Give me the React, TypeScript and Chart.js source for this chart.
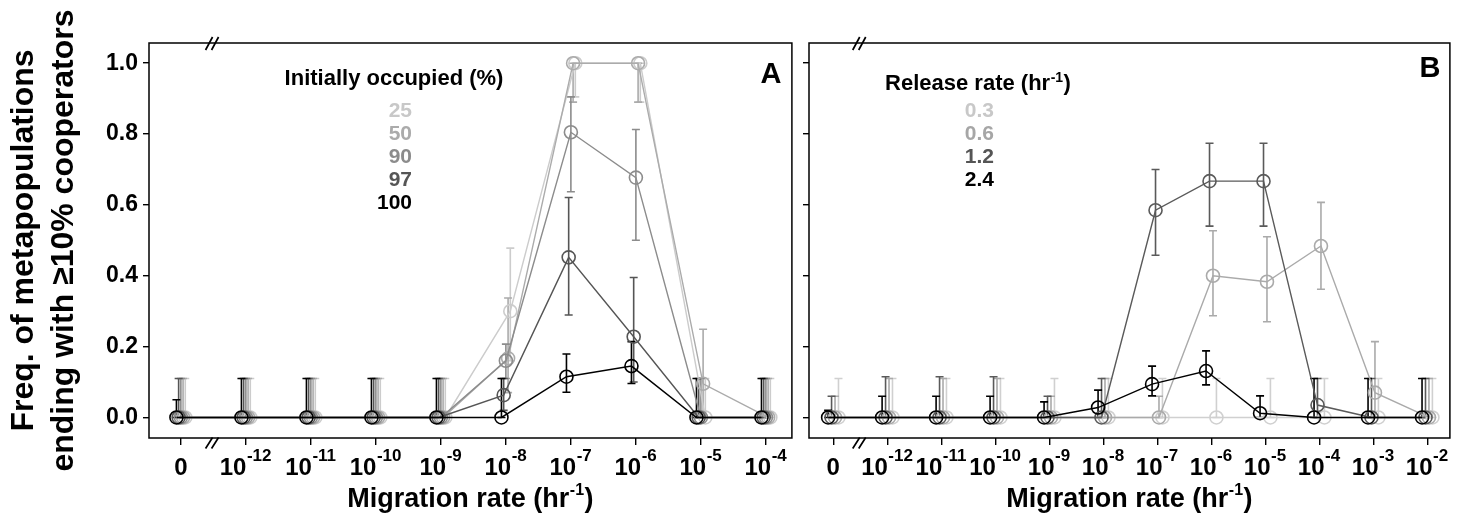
import React, { useEffect, useRef } from "react";
import { Chart, registerables } from "chart.js";

Chart.register(...registerables);

const FONT = '"Liberation Sans", Arial, Helvetica, sans-serif';

// ---------- Panel A data ----------
const xLabelsA = ["0", "10^-12", "10^-11", "10^-10", "10^-9", "10^-8", "10^-7", "10^-6", "10^-5", "10^-4"];
const occLegendTitle = "Initially occupied (%)";
const occLabels = ["100", "97", "90", "50", "25"];

const occ100 = [0, 0, 0, 0, 0, 0, 0.115, 0.145, 0, 0];
const occ100Lo = [0, 0, 0, 0, 0, 0, 0.071, 0.096, 0, 0];
const occ100Hi = [0.05, 0.11, 0.11, 0.11, 0.11, 0.11, 0.179, 0.214, 0.11, 0.11];

const occ97 = [0, 0, 0, 0, 0, 0.063, 0.452, 0.228, 0, 0];
const occ97Lo = [0, 0, 0, 0, 0, 0.02, 0.289, 0.1, 0, 0];
const occ97Hi = [0.11, 0.11, 0.11, 0.11, 0.11, 0.11, 0.621, 0.395, 0.11, 0.11];

const occ90 = [0, 0, 0, 0, 0, 0.16, 0.805, 0.677, 0, 0];
const occ90Lo = [0, 0, 0, 0, 0, 0.11, 0.637, 0.5, 0, 0];
const occ90Hi = [0.11, 0.11, 0.11, 0.11, 0.11, 0.207, 0.905, 0.813, 0.11, 0.11];

const occ50 = [0, 0, 0, 0, 0, 0.167, 1.0, 1.0, 0.095, 0];
const occ50Lo = [0, 0, 0, 0, 0, 0.07, 0.89, 0.89, 0.017, 0];
const occ50Hi = [0.11, 0.11, 0.11, 0.11, 0.11, 0.337, 1.0, 1.0, 0.249, 0.11];

const occ25 = [0, 0, 0, 0, 0, 0.3, 1.0, 1.0, 0, 0];
const occ25Lo = [0, 0, 0, 0, 0, 0.16, 0.905, 0.89, 0, 0];
const occ25Hi = [0.11, 0.11, 0.11, 0.11, 0.11, 0.478, 1.0, 1.0, 0.11, 0.11];

// ---------- Panel B data ----------
const xLabelsB = ["0", "10^-12", "10^-11", "10^-10", "10^-9", "10^-8", "10^-7", "10^-6", "10^-5", "10^-4", "10^-3", "10^-2"];
const relLegendTitle = ["Release rate (hr", "-1", ")"];
const relLabels = ["2.4", "1.2", "0.6", "0.3"];

const rel24 = [0, 0, 0, 0, 0, 0.028, 0.094, 0.131, 0.012, 0, 0, 0];
const rel24Lo = [0, 0, 0, 0, 0, 0, 0.061, 0.092, 0, 0, 0, 0];
const rel24Hi = [0.02, 0.06, 0.06, 0.06, 0.044, 0.077, 0.145, 0.188, 0.061, 0.11, 0.11, 0.11];

const rel12 = [0, 0, 0, 0, 0, 0, 0.585, 0.667, 0.667, 0.035, 0, 0];
const rel12Lo = [0, 0, 0, 0, 0, 0, 0.458, 0.54, 0.54, 0, 0, 0];
const rel12Hi = [0.06, 0.115, 0.115, 0.115, 0.06, 0.11, 0.7, 0.774, 0.774, 0.11, 0.11, 0.11];

const rel06 = [0, 0, 0, 0, 0, 0, 0, 0.4, 0.383, 0.484, 0.07, 0];
const rel06Lo = [0, 0, 0, 0, 0, 0, 0, 0.287, 0.27, 0.362, 0, 0];
const rel06Hi = [0.06, 0.11, 0.11, 0.11, 0.06, 0.11, 0.06, 0.527, 0.51, 0.607, 0.214, 0.11];

const rel03 = [0, 0, 0, 0, 0, 0, 0, 0, 0, 0, 0, 0];
const rel03Lo = [0, 0, 0, 0, 0, 0, 0, 0, 0, 0, 0, 0];
const rel03Hi = [0.11, 0.11, 0.11, 0.11, 0.11, 0.11, 0.11, 0.11, 0.11, 0.11, 0.11, 0.11];

// ---------- shared axis text ----------
const yTickValues = [0, 0.2, 0.4, 0.6, 0.8, 1.0];
const yTitleLines = ["Freq. of metapopulations", "ending with \u226510% cooperators"];
const xTitle = ["Migration rate (hr", "-1", ")"];

type Series = { label: string; color: string; textColor: string; values: number[]; lo: number[]; hi: number[] };

type Spec = {
  letter: string;
  xLabels: string[];
  series: Series[];
  xMin: number;
  xMax: number;
  jitter: number;
  canvasWidth: number;
  yAxisWidth: number;
  showYLabels: boolean;
  legendTitle: string[];
  legendCx: number;
  legendTitleBaseline: number;
  legendNumRight: number;
  letterCx: number;
  letterBaseline: number;
};

const specA: Spec = {
  letter: "A",
  xLabels: xLabelsA,
  series: [
    { label: occLabels[0], color: "#000000", textColor: "#000000", values: occ100, lo: occ100Lo, hi: occ100Hi },
    { label: occLabels[1], color: "#555555", textColor: "#555555", values: occ97, lo: occ97Lo, hi: occ97Hi },
    { label: occLabels[2], color: "#8c8c8c", textColor: "#8c8c8c", values: occ90, lo: occ90Lo, hi: occ90Hi },
    { label: occLabels[3], color: "#ababab", textColor: "#ababab", values: occ50, lo: occ50Lo, hi: occ50Hi },
    { label: occLabels[4], color: "#cccccc", textColor: "#c8c8c8", values: occ25, lo: occ25Lo, hi: occ25Hi },
  ],
  xMin: -0.49,
  xMax: 9.4,
  jitter: 0.034,
  canvasWidth: 800,
  yAxisWidth: 149,
  showYLabels: true,
  legendTitle: [occLegendTitle, "", ""],
  legendCx: 394,
  legendTitleBaseline: 85,
  legendNumRight: 412,
  letterCx: 771,
  letterBaseline: 83,
};

const specB: Spec = {
  letter: "B",
  xLabels: xLabelsB,
  series: [
    { label: relLabels[0], color: "#000000", textColor: "#000000", values: rel24, lo: rel24Lo, hi: rel24Hi },
    { label: relLabels[1], color: "#5a5a5a", textColor: "#555555", values: rel12, lo: rel12Lo, hi: rel12Hi },
    { label: relLabels[2], color: "#aaaaaa", textColor: "#a6a6a6", values: rel06, lo: rel06Lo, hi: rel06Hi },
    { label: relLabels[3], color: "#d0d0d0", textColor: "#c8c8c8", values: rel03, lo: rel03Lo, hi: rel03Hi },
  ],
  xMin: -0.45,
  xMax: 11.42,
  jitter: 0.064,
  canvasWidth: 658,
  yAxisWidth: 9,
  showYLabels: false,
  legendTitle: relLegendTitle,
  legendCx: 178,
  legendTitleBaseline: 90,
  legendNumRight: 194,
  letterCx: 630,
  letterBaseline: 77,
};

function bold(size: number) {
  return `bold ${size}px ${FONT}`;
}

function drawSup(
  ctx: CanvasRenderingContext2D,
  parts: string[],
  cx: number,
  baseline: number,
  size: number,
  supSize: number,
  rise: number,
  color: string
) {
  const [base, sup, tail] = parts;
  ctx.font = bold(size);
  const wb = ctx.measureText(base).width;
  const wt = tail ? ctx.measureText(tail).width : 0;
  ctx.font = bold(supSize);
  const ws = sup ? ctx.measureText(sup).width + 1 : 0;
  let x = cx - (wb + ws + wt) / 2;
  ctx.fillStyle = color;
  ctx.textAlign = "left";
  ctx.textBaseline = "alphabetic";
  ctx.font = bold(size);
  ctx.fillText(base, x, baseline);
  x += wb;
  if (sup) {
    ctx.font = bold(supSize);
    ctx.fillText(sup, x + 0.5, baseline - rise);
    x += ws;
  }
  if (tail) {
    ctx.font = bold(size);
    ctx.fillText(tail, x, baseline);
  }
}

function buildConfig(spec: Spec): any {
  const n = spec.series.length;
  const offOf = (k: number) => (k - (n - 1) / 2) * spec.jitter;
  const idx = spec.xLabels.map((_, i) => i);

  const datasets = spec.series.map((s, k) => ({
    label: s.label,
    data: s.values.map((v, i) => ({ x: i + offOf(k), y: v })),
    borderColor: s.color,
    backgroundColor: "rgba(0,0,0,0)",
    borderWidth: 1.4,
    pointRadius: 6.5,
    pointBorderWidth: 1.6,
    pointBorderColor: s.color,
    pointBackgroundColor: "rgba(0,0,0,0)",
    pointHoverRadius: 6.5,
    fill: false,
    tension: 0,
    clip: false,
  }));

  const errPlugin = {
    id: "errbars" + spec.letter,
    beforeDatasetsDraw(chart: any) {
      const { ctx } = chart;
      const xs = chart.scales.x;
      const ys = chart.scales.y;
      const cap = 4;
      ctx.save();
      ctx.lineWidth = 1.6;
      for (let k = n - 1; k >= 0; k--) {
        const s = spec.series[k];
        ctx.strokeStyle = s.color;
        s.values.forEach((_v, i) => {
          const px = xs.getPixelForValue(i + offOf(k));
          const yl = ys.getPixelForValue(s.lo[i]);
          const yh = ys.getPixelForValue(s.hi[i]);
          ctx.beginPath();
          ctx.moveTo(px, yl);
          ctx.lineTo(px, yh);
          ctx.moveTo(px - cap, yh);
          ctx.lineTo(px + cap, yh);
          ctx.moveTo(px - cap, yl);
          ctx.lineTo(px + cap, yl);
          ctx.stroke();
        });
      }
      ctx.restore();
    },
  };

  const decoPlugin = {
    id: "deco" + spec.letter,
    afterDraw(chart: any) {
      const { ctx, chartArea } = chart;
      const xs = chart.scales.x;
      ctx.save();
      // box
      ctx.strokeStyle = "#000";
      ctx.lineWidth = 1.5;
      ctx.strokeRect(chartArea.left, chartArea.top, chartArea.right - chartArea.left, chartArea.bottom - chartArea.top);
      // axis break marks
      const bx = xs.getPixelForValue(0.48);
      const drawBreak = (y: number, h: number) => {
        ctx.beginPath();
        for (const dx of [-3, 3]) {
          ctx.moveTo(bx + dx - 3.5, y + h);
          ctx.lineTo(bx + dx + 3.5, y - h);
        }
        ctx.stroke();
      };
      ctx.lineWidth = 1.7;
      drawBreak(chartArea.top + 0.5, 6.5);
      drawBreak(chartArea.bottom + 5, 5.5);
      // x tick labels
      spec.xLabels.forEach((lab, i) => {
        const [base, exp] = lab.split("^");
        drawSup(ctx, [base, exp || "", ""], xs.getPixelForValue(i), 475, 24, 17, 14, "#000");
      });
      // x title
      drawSup(ctx, xTitle, (chartArea.left + chartArea.right) / 2, 507, 27, 16, 12, "#000");
      // legend
      drawSup(ctx, spec.legendTitle, spec.legendCx, spec.legendTitleBaseline, 22, 14, 8, "#000");
      const legendOrder = [...spec.series].reverse();
      ctx.textAlign = "right";
      ctx.textBaseline = "alphabetic";
      ctx.font = bold(21);
      legendOrder.forEach((s, j) => {
        ctx.fillStyle = s.textColor;
        ctx.fillText(s.label, spec.legendNumRight, 116.5 + j * 23.2);
      });
      // panel letter
      ctx.font = bold(29);
      ctx.textAlign = "center";
      ctx.fillStyle = "#000";
      ctx.fillText(spec.letter, spec.letterCx, spec.letterBaseline);
      ctx.restore();
    },
  };

  return {
    type: "line",
    data: { datasets },
    plugins: [errPlugin, decoPlugin],
    options: {
      animation: false,
      responsive: false,
      maintainAspectRatio: false,
      devicePixelRatio: 1,
      events: [],
      layout: { padding: { top: 43, right: 4, bottom: 0, left: 0 } },
      plugins: { legend: { display: false }, tooltip: { enabled: false }, title: { display: false } },
      scales: {
        x: {
          type: "linear",
          min: spec.xMin,
          max: spec.xMax,
          afterBuildTicks: (s: any) => {
            s.ticks = idx.map((v) => ({ value: v }));
          },
          afterFit: (s: any) => {
            s.height = 82;
          },
          ticks: { display: false },
          grid: { display: true, drawOnChartArea: false, drawTicks: true, tickLength: 7, color: "#000", lineWidth: 1.4 },
          border: { display: false },
        },
        y: {
          type: "linear",
          min: -0.058,
          max: 1.057,
          afterBuildTicks: (s: any) => {
            s.ticks = yTickValues.map((v) => ({ value: v }));
          },
          afterFit: (s: any) => {
            s.width = spec.yAxisWidth;
          },
          ticks: {
            display: spec.showYLabels,
            callback: (v: any) => Number(v).toFixed(1),
            font: { family: FONT, size: 23, weight: "bold" },
            color: "#000",
            padding: 5,
          },
          grid: { display: true, drawOnChartArea: false, drawTicks: true, tickLength: 6, color: "#000", lineWidth: 1.4 },
          border: { display: false },
          title: {
            display: spec.showYLabels,
            text: yTitleLines,
            color: "#000",
            font: { family: FONT, size: 32, weight: "bold", lineHeight: 1.25 },
            padding: { top: 4, bottom: 0 },
          },
        },
      },
    },
  };
}

function Panel({ spec, left }: { spec: Spec; left: number }) {
  const ref = useRef<HTMLCanvasElement>(null);
  useEffect(() => {
    if (!ref.current) return;
    const chart = new Chart(ref.current, buildConfig(spec));
    return () => chart.destroy();
  }, [spec]);
  return (
    <canvas
      ref={ref}
      width={spec.canvasWidth}
      height={520}
      style={{ position: "absolute", left, top: 0, width: spec.canvasWidth, height: 520 }}
    />
  );
}

export default function App() {
  return (
    <div style={{ position: "absolute", left: 0, top: 0, width: 1458, height: 520, background: "#fff", overflow: "hidden" }}>
      <Panel spec={specA} left={0} />
      <Panel spec={specB} left={800} />
    </div>
  );
}
